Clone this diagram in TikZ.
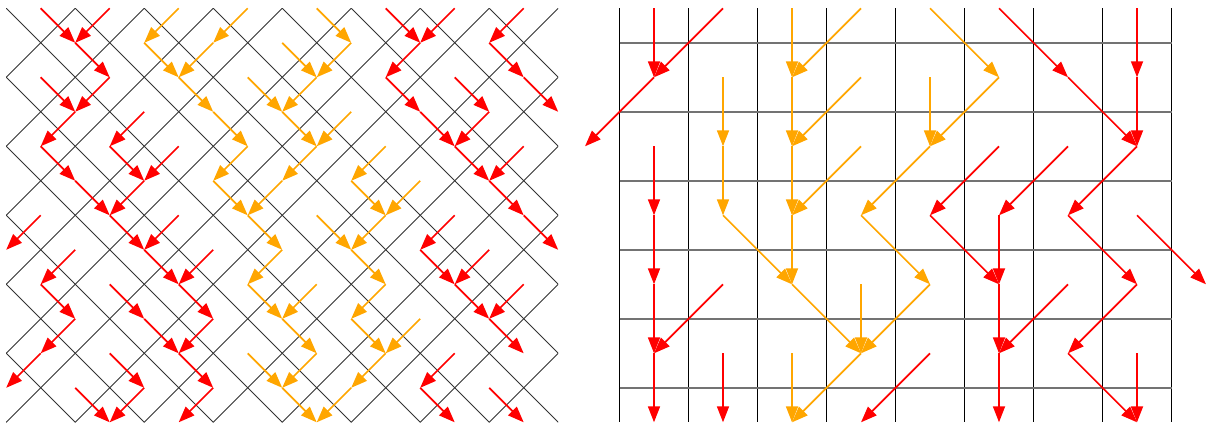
\documentclass[tikz,border=0pt]{standalone}
\usepackage{tikz}
\usetikzlibrary{arrows.meta}
\definecolor{flowred}{rgb}{1.00,0.00,0.00}
\definecolor{flowamber}{rgb}{1.00,0.65,0.00}
\definecolor{diaggray}{gray}{0.20}
\definecolor{rowgray}{gray}{0.45}
\tikzset{
  diagln/.style={diaggray,line width=0.9pt},
  colln/.style={black,line width=1pt},
  rowln/.style={rowgray,line width=1.6pt},
  flowR/.style={flowred,line width=1.7pt,-{Triangle[length=16pt,width=12pt]}},
  flowA/.style={flowamber,line width=1.7pt,-{Triangle[length=16pt,width=12pt]}},
}

\begin{document}
\begin{tikzpicture}
  \useasboundingbox (0,0) rectangle (1209pt,-427pt);
  % --- left: diagonal lattice ---
  \begin{scope}[x=34.5pt,y=-34.5pt,shift={(40.7pt,-8.3pt)}]
    \foreach \a in {-1,...,15}{
      \foreach \b in {0,...,12}{\coordinate (l\a-\b) at (\a,\b);}
    }
    \begin{scope}
      \clip (-1,0) rectangle (15,12);
      \foreach \c in {-13,-11,...,15}{\draw[diagln] (\c,0) -- ++(12,12);}
      \foreach \c in {-1,1,...,27}{\draw[diagln] (\c,0) -- ++(-12,12);}
    \end{scope}
    % red paths
    \foreach \p/\q in {0-0/1-1,2-0/1-1,1-1/2-2,0-2/1-3,2-2/1-3,1-3/0-4,3-3/2-4,
      0-4/1-5,1-5/2-6,2-4/3-5,4-4/3-5,3-5/2-6,
      10-0/11-1,12-0/11-1,11-1/10-2,10-2/11-3,11-3/12-4,12-2/13-3,13-3/12-4,
      12-4/13-5,14-4/13-5,13-5/14-6,14-0/13-1,13-1/14-2,14-2/15-3,
      0-6/-1-7,2-6/3-7,4-6/3-7,3-7/4-8,5-7/4-8,4-8/5-9,5-9/4-10,2-8/3-9,
      3-9/4-10,4-10/5-11,5-11/4-12,1-7/0-8,0-8/1-9,1-9/0-10,0-10/-1-11,
      2-10/3-11,3-11/2-12,1-11/2-12,
      12-6/11-7,11-7/12-8,13-7/12-8,12-8/13-9,14-8/13-9,13-9/14-10,14-6/15-7,
      12-10/11-11,11-11/12-12,13-11/14-12}
      \draw[flowR] (l\p) -- (l\q);
    % orange paths
    \foreach \p/\q in {4-0/3-1,6-0/5-1,5-1/4-2,3-1/4-2,4-2/5-3,5-3/6-4,6-4/5-5,
      5-5/6-6,7-1/8-2,6-2/7-3,8-2/7-3,7-3/8-4,8-4/7-5,7-5/6-6,8-0/9-1,9-1/8-2,
      9-3/8-4,10-4/9-5,9-5/10-6,11-5/10-6,
      6-6/7-7,7-7/6-8,6-8/7-9,8-8/7-9,7-9/8-10,6-10/7-11,8-10/7-11,7-11/8-12,
      8-6/9-7,10-6/9-7,9-7/10-8,10-8/9-9,9-9/10-10,11-9/10-10,10-10/9-11,
      9-11/8-12}
      \draw[flowA] (l\p) -- (l\q);
  \end{scope}
  % --- right: square lattice ---
  \begin{scope}[x=69pt,y=-69pt,shift={(654pt,-8.3pt)}]
    \foreach \i in {-1,...,8}{
      \foreach \j in {0,...,6}{\coordinate (r\i-\j) at (\i,\j);}
    }
    \foreach \k in {0,...,8}{\draw[colln] (\k-0.5,0) -- (\k-0.5,6);}
    \foreach \m in {1,...,6}{\draw[rowln] (-0.5,\m-0.5) -- (7.5,\m-0.5);}
    % red paths
    \foreach \p/\q in {0-0/0-1,1-0/0-1,0-1/-1-2,0-2/0-3,0-3/0-4,0-4/0-5,1-4/0-5,
      0-5/0-6,1-5/1-6,4-5/3-6,
      5-0/6-1,6-1/7-2,7-0/7-1,7-1/7-2,7-2/6-3,5-2/4-3,6-2/5-3,7-3/8-4,
      4-3/5-4,5-3/5-4,5-4/5-5,6-4/5-5,5-5/5-6,6-3/7-4,7-4/6-5,6-5/7-6,7-5/7-6}
      \draw[flowR] (r\p) -- (r\q);
    % orange paths
    \foreach \p/\q in {2-0/2-1,3-0/2-1,2-1/2-2,3-1/2-2,2-2/2-3,3-2/2-3,1-1/1-2,
      1-2/1-3,4-2/3-3,4-0/5-1,5-1/4-2,4-1/4-2,1-3/2-4,2-3/2-4,2-4/3-5,3-4/3-5,
      4-4/3-5,3-5/2-6,2-5/2-6,3-3/4-4}
      \draw[flowA] (r\p) -- (r\q);
  \end{scope}
\end{tikzpicture}
\end{document}
